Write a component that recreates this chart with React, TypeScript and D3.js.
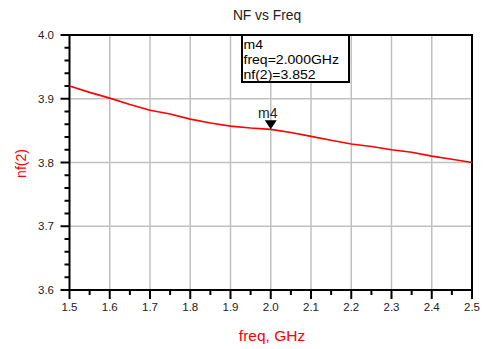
import React, { useEffect, useRef } from "react";
import * as d3 from "d3";

// Frequency sweep (GHz) and noise figure nf(2)
const freqs = [1.5, 1.55, 1.6, 1.65, 1.7, 1.75, 1.8, 1.85, 1.9, 1.95, 2.0, 2.05, 2.1, 2.15, 2.2, 2.25, 2.3, 2.35, 2.4, 2.45, 2.5];
const nfValues = [3.92, 3.91, 3.901, 3.891, 3.882, 3.876, 3.868, 3.862, 3.857, 3.854, 3.852, 3.847, 3.841, 3.835, 3.829, 3.825, 3.82, 3.816, 3.81, 3.805, 3.8];

const xTicks = [1.5, 1.6, 1.7, 1.8, 1.9, 2.0, 2.1, 2.2, 2.3, 2.4, 2.5];
const yTicks = [3.6, 3.7, 3.8, 3.9, 4.0];

const markerName = "m4";
const markerFreq = 2.0;
const markerValue = 3.852;

const FONT = "'Liberation Sans', Arial, sans-serif";

export default function App() {
  const svgRef = useRef<SVGSVGElement>(null);
  const width = 483;
  const height = 349;

  useEffect(() => {
    if (!svgRef.current) return;
    const svg = d3.select(svgRef.current);
    svg.selectAll("*").remove();

    const left = 69.5;
    const right = 472;
    const top = 35;
    const bottom = 290;

    const x = d3.scaleLinear().domain([1.5, 2.5]).range([left, right]);
    const y = d3.scaleLinear().domain([3.6, 4.0]).range([bottom, top]);

    // grid
    svg
      .append("g")
      .selectAll("line")
      .data(xTicks.slice(1, -1))
      .enter()
      .append("line")
      .attr("x1", (d) => x(d))
      .attr("x2", (d) => x(d))
      .attr("y1", top)
      .attr("y2", bottom)
      .attr("stroke", "#c0c0c0")
      .attr("stroke-width", 1.5);

    svg
      .append("g")
      .selectAll("line")
      .data(yTicks.slice(1, -1))
      .enter()
      .append("line")
      .attr("x1", left)
      .attr("x2", right)
      .attr("y1", (d) => y(d))
      .attr("y2", (d) => y(d))
      .attr("stroke", "#c0c0c0")
      .attr("stroke-width", 1.5);

    // minor ticks
    const xMinor = d3.range(1.55, 2.5, 0.1);
    svg
      .append("g")
      .selectAll("line")
      .data(xMinor)
      .enter()
      .append("line")
      .attr("x1", (d) => x(d))
      .attr("x2", (d) => x(d))
      .attr("y1", bottom)
      .attr("y2", bottom + 5)
      .attr("stroke", "#000")
      .attr("stroke-width", 2);

    const yMinor = d3.range(0, 20).map((i) => 3.6 + i * 0.02).filter((_, i) => i % 5 !== 0);
    svg
      .append("g")
      .selectAll("line")
      .data(yMinor)
      .enter()
      .append("line")
      .attr("x1", left - 5)
      .attr("x2", left)
      .attr("y1", (d) => y(d))
      .attr("y2", (d) => y(d))
      .attr("stroke", "#000")
      .attr("stroke-width", 2);

    // major ticks + labels
    const xg = svg.append("g");
    xg.selectAll("line")
      .data(xTicks)
      .enter()
      .append("line")
      .attr("x1", (d) => x(d))
      .attr("x2", (d) => x(d))
      .attr("y1", bottom)
      .attr("y2", bottom + 9)
      .attr("stroke", "#000")
      .attr("stroke-width", 2);
    xg.selectAll("text")
      .data(xTicks)
      .enter()
      .append("text")
      .attr("x", (d) => x(d))
      .attr("y", 311)
      .attr("text-anchor", "middle")
      .attr("font-family", FONT)
      .attr("font-size", 11.5)
      .attr("fill", "#222")
      .text((d) => d3.format(".1f")(d));

    const yg = svg.append("g");
    yg.selectAll("line")
      .data(yTicks)
      .enter()
      .append("line")
      .attr("x1", left - 9)
      .attr("x2", left)
      .attr("y1", (d) => y(d))
      .attr("y2", (d) => y(d))
      .attr("stroke", "#000")
      .attr("stroke-width", 2);
    yg.selectAll("text")
      .data(yTicks)
      .enter()
      .append("text")
      .attr("x", 54)
      .attr("y", (d) => y(d) + 4)
      .attr("text-anchor", "end")
      .attr("font-family", FONT)
      .attr("font-size", 11.5)
      .attr("fill", "#222")
      .text((d) => d3.format(".1f")(d));

    // frame
    svg
      .append("rect")
      .attr("x", left)
      .attr("y", top)
      .attr("width", right - left)
      .attr("height", bottom - top)
      .attr("fill", "none")
      .attr("stroke", "#000")
      .attr("stroke-width", 2);

    // data line
    const pts = freqs.map((f, i) => [f, nfValues[i]] as [number, number]);
    const line = d3
      .line<[number, number]>()
      .x((d) => x(d[0]))
      .y((d) => y(d[1]));
    svg
      .append("path")
      .datum(pts)
      .attr("fill", "none")
      .attr("stroke", "#ff0000")
      .attr("stroke-width", 1.6)
      .attr("d", line);

    // marker
    const mx = x(markerFreq);
    const my = y(markerValue);
    svg
      .append("path")
      .attr("d", `M${mx - 6},${my - 9}L${mx + 6},${my - 9}L${mx},${my}Z`)
      .attr("fill", "#000");
    svg
      .append("text")
      .attr("x", mx - 3)
      .attr("y", my - 11)
      .attr("text-anchor", "middle")
      .attr("font-family", FONT)
      .attr("font-size", 14)
      .attr("fill", "#222")
      .text(markerName);

    // marker readout box
    const box = svg.append("g");
    box
      .append("rect")
      .attr("x", 242)
      .attr("y", top)
      .attr("width", 107)
      .attr("height", 47)
      .attr("fill", "#fff")
      .attr("stroke", "#000")
      .attr("stroke-width", 2);
    const lines = [
      markerName,
      `freq=${markerFreq.toFixed(3)}GHz`,
      `nf(2)=${markerValue.toFixed(3)}`,
    ];
    box
      .append("g")
      .attr("transform", "translate(243.5,0) scale(1.08,1)")
      .selectAll("text")
      .data(lines)
      .enter()
      .append("text")
      .attr("x", 0)
      .attr("y", (_, i) => 48.7 + i * 15)
      .attr("font-family", FONT)
      .attr("font-size", 13)
      .attr("fill", "#000")
      .text((d) => d);

    // titles
    svg
      .append("text")
      .attr("x", 267)
      .attr("y", 20)
      .attr("text-anchor", "middle")
      .attr("font-family", FONT)
      .attr("font-size", 13.8)
      .attr("fill", "#222")
      .text("NF vs Freq");

    svg
      .append("text")
      .attr("x", 272)
      .attr("y", 340.5)
      .attr("text-anchor", "middle")
      .attr("font-family", FONT)
      .attr("font-size", 15.5)
      .attr("fill", "#ff0000")
      .text("freq, GHz");

    svg
      .append("text")
      .attr("transform", `translate(26,${(top + bottom) / 2 + 1}) rotate(-90)`)
      .attr("text-anchor", "middle")
      .attr("font-family", FONT)
      .attr("font-size", 14)
      .attr("fill", "#ff0000")
      .text("nf(2)");
  }, []);

  return (
    <div style={{ position: "absolute", left: 0, top: 0, width, height, background: "#fff" }}>
      <svg ref={svgRef} width={width} height={height} />
    </div>
  );
}
